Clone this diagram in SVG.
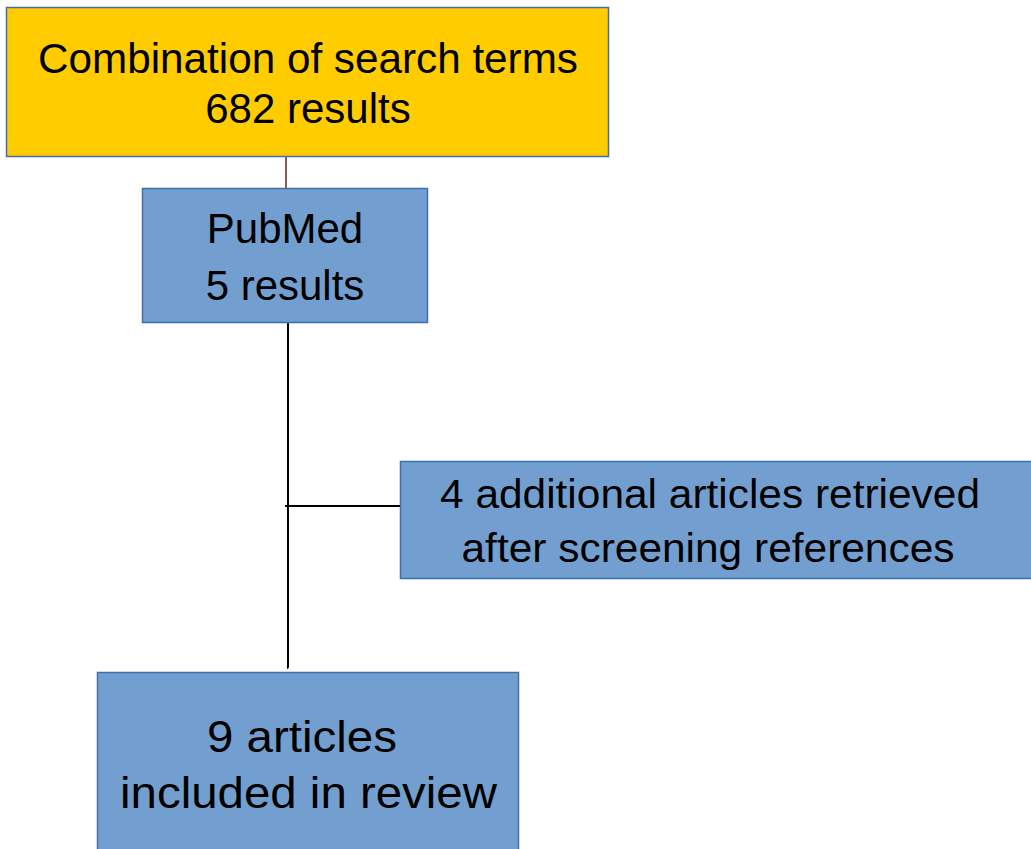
<svg xmlns="http://www.w3.org/2000/svg" width="1031" height="849" viewBox="0 0 1031 849">
  <style>
    .box { stroke: #3f6fb0; stroke-width: 1.5; }
    .yellow { fill: #ffcc00; }
    .blue { fill: #729fcf; }
    .label { font-family: "Liberation Sans", Arial, sans-serif; fill: #000; text-anchor: middle; }
    .link { fill: none; stroke: #000; stroke-width: 2; }
  </style>
  <rect width="1031" height="849" fill="#ffffff"/>

  <!-- connectors -->
  <g id="connectors">
    <line x1="286" y1="157" x2="286" y2="188" stroke="#6b2418" stroke-width="1.5"/>
    <path class="link" d="M288 323 V666 Q288 668 287 668"/>
    <line class="link" x1="285" y1="506" x2="400" y2="506"/>
  </g>

  <!-- search terms -->
  <g id="node-search">
    <rect class="box yellow" x="6.5" y="7.5" width="602" height="149"/>
    <text class="label" font-size="42" x="308" y="73" textLength="540" lengthAdjust="spacingAndGlyphs">Combination of search terms</text>
    <text class="label" font-size="42" x="308" y="123">682 results</text>
  </g>

  <!-- PubMed -->
  <g id="node-pubmed">
    <rect class="box blue" x="142.5" y="188.5" width="285" height="134"/>
    <text class="label" font-size="42" x="285" y="243">PubMed</text>
    <text class="label" font-size="42" x="285" y="300">5 results</text>
  </g>

  <!-- additional articles -->
  <g id="node-additional">
    <rect class="box blue" x="400.5" y="461.5" width="640" height="117"/>
    <text class="label" font-size="40" x="710" y="508" textLength="540" lengthAdjust="spacingAndGlyphs">4 additional articles retrieved</text>
    <text class="label" font-size="40" x="708" y="562" textLength="493" lengthAdjust="spacingAndGlyphs">after screening references</text>
  </g>

  <!-- included -->
  <g id="node-included">
    <rect class="box blue" x="97.5" y="672.5" width="421" height="190"/>
    <text class="label" font-size="45" x="302" y="752" textLength="190" lengthAdjust="spacingAndGlyphs">9 articles</text>
    <text class="label" font-size="45" x="308.5" y="808" textLength="377" lengthAdjust="spacingAndGlyphs">included in review</text>
  </g>
</svg>
